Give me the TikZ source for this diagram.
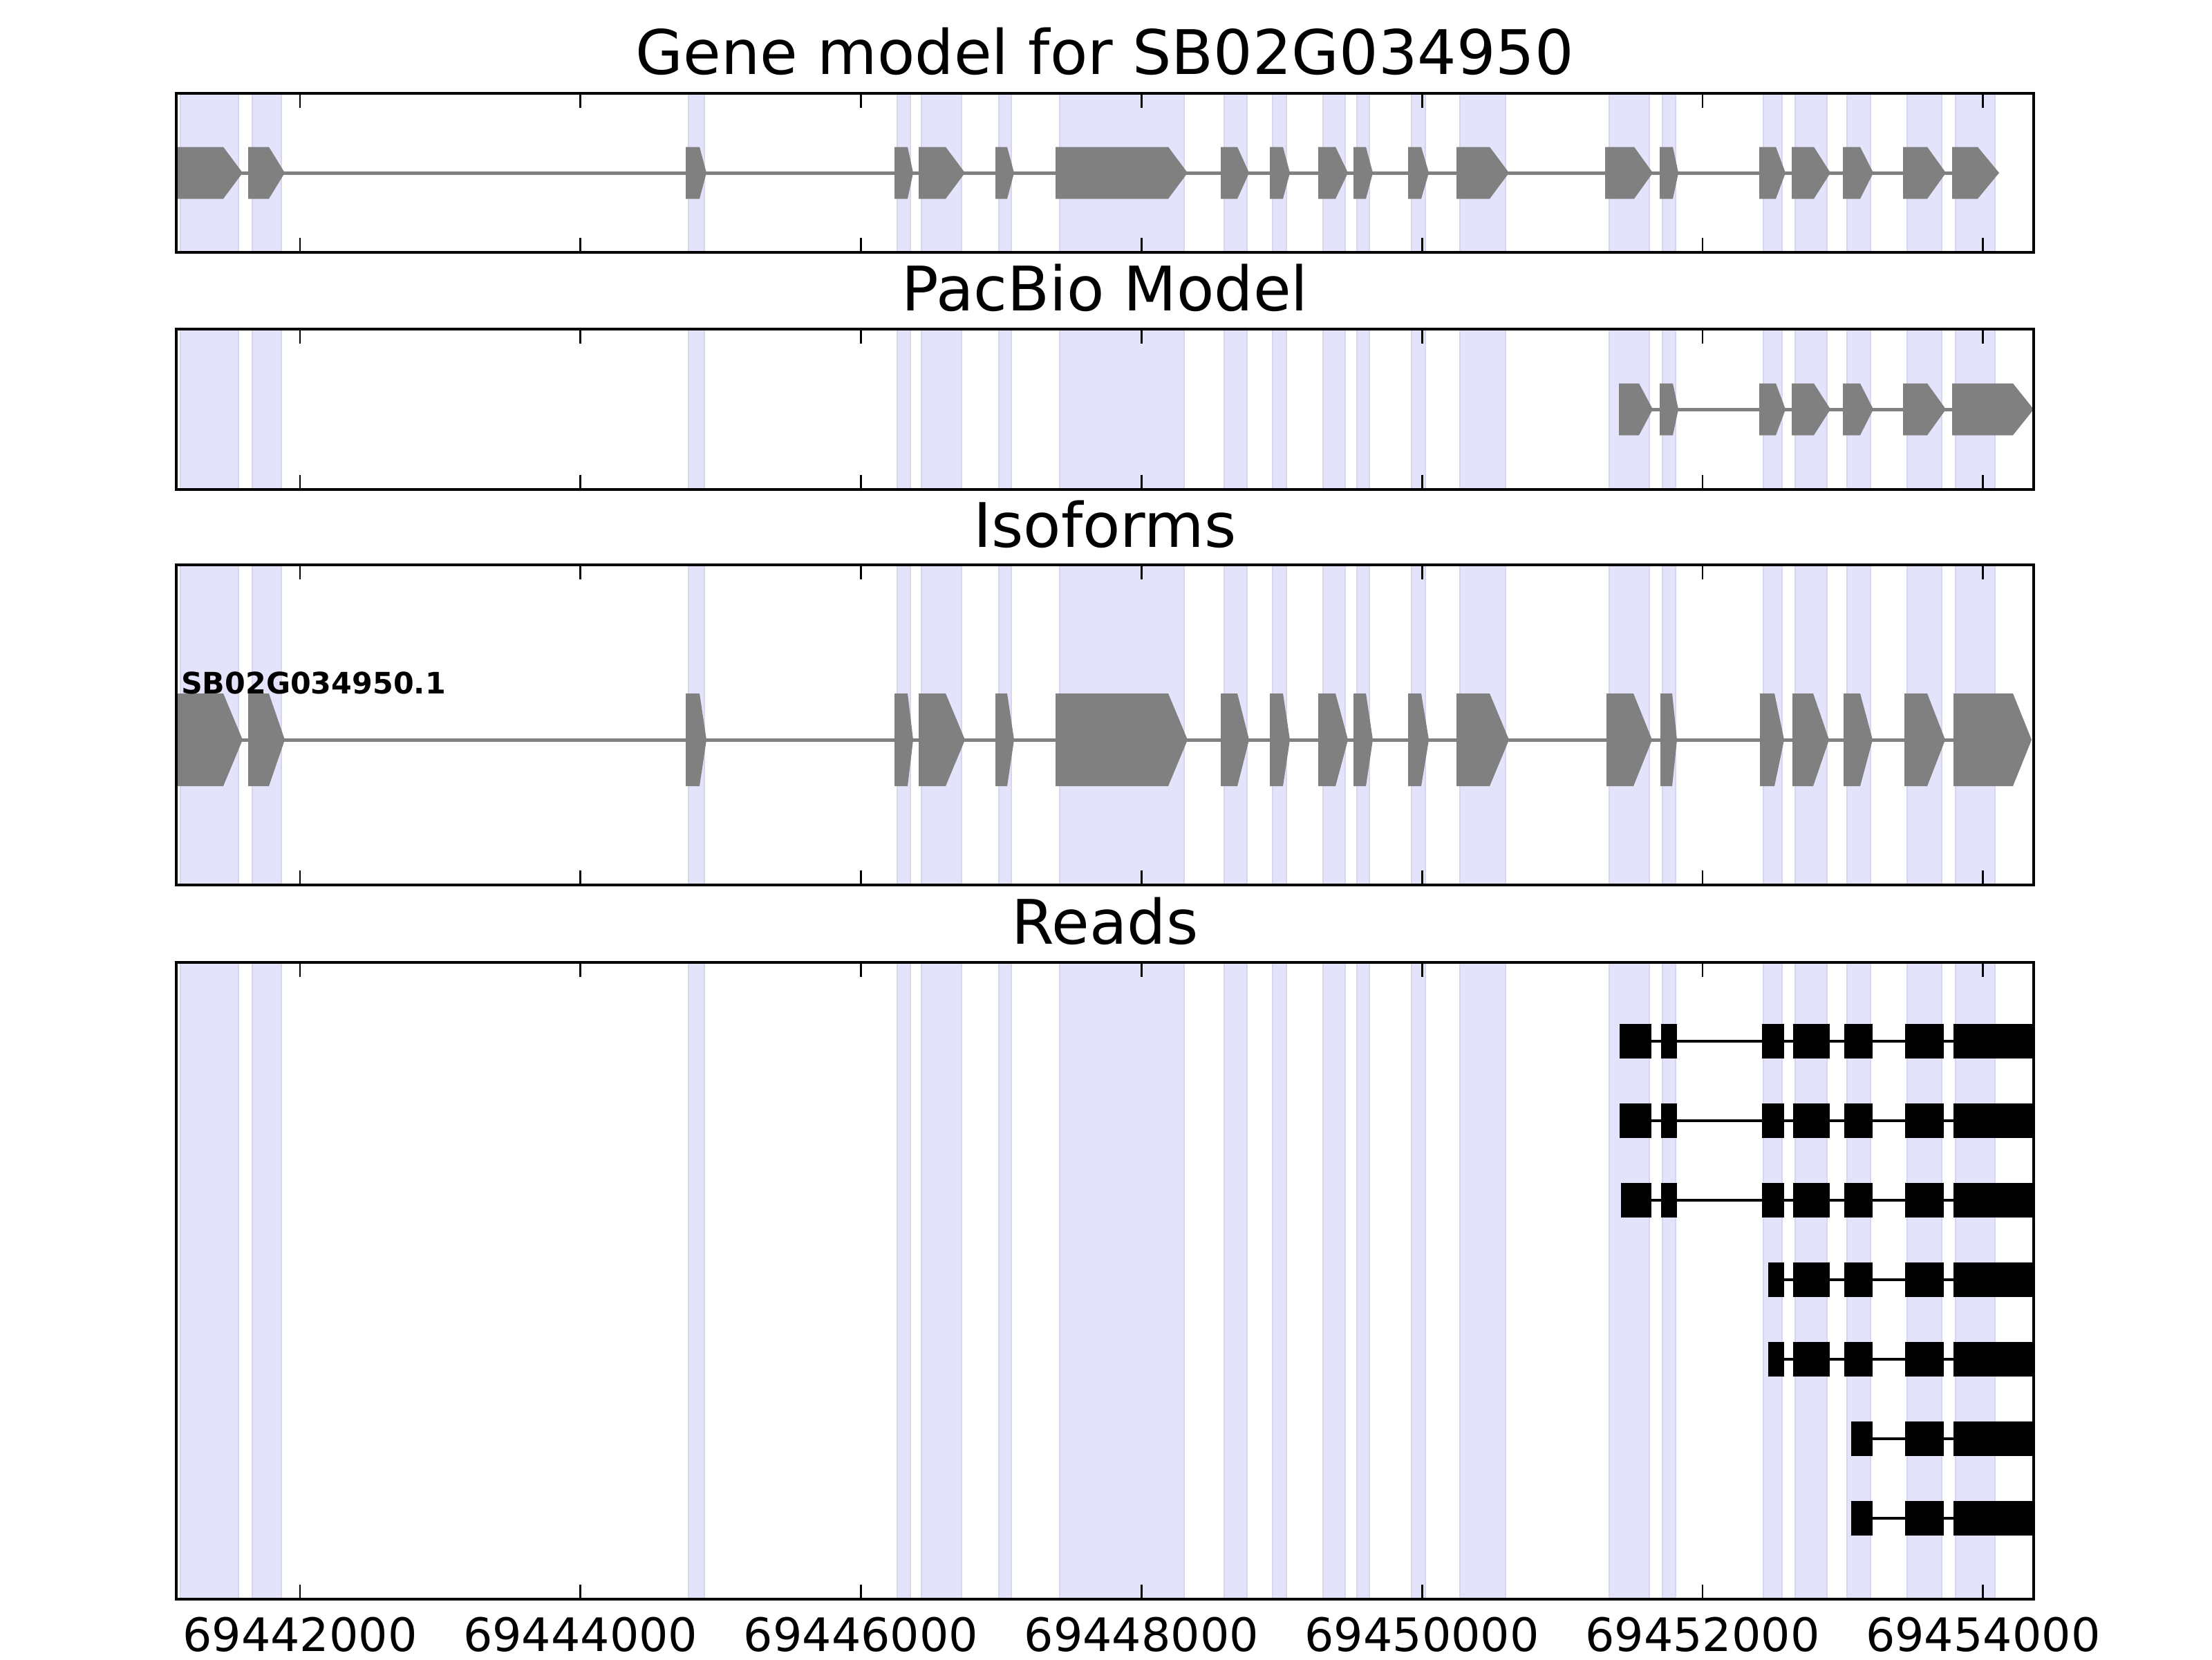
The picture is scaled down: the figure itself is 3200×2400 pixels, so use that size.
\documentclass[tikz,border=0pt]{standalone}
\usepackage{fontspec}
\setmainfont{DejaVu Sans}
\definecolor{bandfill}{RGB}{227,227,252}
\definecolor{bandedge}{RGB}{214,214,236}
\definecolor{exongray}{RGB}{128,128,128}
\tikzset{
  band/.style={fill=bandfill, draw=bandedge, line width=0.4pt},
  frame/.style={draw=black, line width=0.72pt},
  tickmark/.style={draw=black, line width=0.5pt},
  intron/.style={draw=exongray, line width=0.9pt},
  exonfill/.style={fill=exongray},
  readblock/.style={fill=black},
  readline/.style={draw=black, line width=0.8pt},
  paneltitle/.style={font=\fontsize{16}{19}\selectfont, anchor=base, inner sep=0pt},
  ticklabel/.style={font=\fontsize{12}{14}\selectfont, anchor=base, inner sep=0pt},
  isolabel/.style={font=\bfseries\fontsize{7.7}{9}\selectfont, anchor=base west, inner sep=0pt}
}
\newcommand\exonarrow[5]{\fill[exonfill] (#1,{#4-#5}) -- (#2,{#4-#5}) -- (#3,#4) -- (#2,{#4+#5}) -- (#1,{#4+#5}) -- cycle;}
\newcommand\readrow[4]{%
  \draw[readline] (#2,#1) -- (#3,#1);
  \foreach \a/\b in {#4} {\fill[readblock] (\a,{#1-25}) rectangle (\b,{#1+25});}
}
\def\bandlist{261/345,365/407,996/1019,1298/1317,1333/1391,1445/1463,1533/1713,1771/1804,1841/1861,1914/1946,1963/1981,2042/2062,2112/2178,2328/2386,2405/2424,2551/2578,2597/2643,2672/2706,2759/2809,2829/2886}
\def\genelist{240/323/351,359/389/412,992/1012/1022,1294/1313/1321,1329/1368/1396,1440/1457/1467,1527/1690/1718,1766/1790/1807,1837/1856/1866,1907/1932/1950,1958/1976/1986,2037/2056/2067,2107/2155/2183,2322/2364/2391,2401/2420/2428,2545/2569/2583,2592/2624/2648,2666/2691/2710,2753/2788/2815,2824/2861/2892}
\def\pacbiolist{2342/2371/2391,2401/2420/2428,2545/2569/2583,2592/2624/2648,2666/2691/2710,2753/2788/2815,2824/2912/2942}
\def\isolist{240/323/351,359/389/412,992/1012/1022,1294/1313/1321,1329/1368/1396,1440/1457/1467,1527/1690/1718,1766/1790/1807,1837/1856/1866,1907/1932/1950,1958/1976/1986,2037/2056/2067,2107/2155/2183,2324/2363/2390,2402/2419/2426,2546/2567/2581,2593/2623/2646,2667/2691/2709,2755/2788/2814,2826/2912/2939}
\begin{document}
\begin{tikzpicture}[x=0.18pt,y=-0.18pt]
\useasboundingbox (0,0) rectangle (3200,2400);
\fill[white] (0,0) rectangle (3200,2400);

% bands and ticks in each panel
\foreach \ptop/\pbot in {135/365,476/708,817/1280,1392/2313} {
  \foreach \a/\b in \bandlist {\filldraw[band] (\a,\ptop) rectangle (\b,\pbot);}
  \foreach \k in {0,...,6} {
    \draw[tickmark] ({434+405.8*\k},\ptop) -- ++(0,21);
    \draw[tickmark] ({434+405.8*\k},\pbot) -- ++(0,-21);
  }
}

% Panel 1: gene model
\begin{scope}
  \clip (255,135) rectangle (2942,365);
  \draw[intron] (255,250) -- (2824,250);
  \foreach \s/\r/\t in \genelist {\exonarrow{\s}{\r}{\t}{250}{37.5}}
\end{scope}

% Panel 2: PacBio model
\begin{scope}
  \clip (255,476) rectangle (2942,708);
  \draw[intron] (2342,592) -- (2824,592);
  \foreach \s/\r/\t in \pacbiolist {\exonarrow{\s}{\r}{\t}{592}{37.5}}
\end{scope}

% Panel 3: isoforms
\begin{scope}
  \clip (255,817) rectangle (2942,1280);
  \draw[intron] (255,1070) -- (2826,1070);
  \foreach \s/\r/\t in \isolist {\exonarrow{\s}{\r}{\t}{1070}{67}}
\end{scope}
\node[isolabel] (iso) at (261,1003) {SB02G034950.1};

% Panel 4: reads
\readrow{1506}{2343}{2940}{2343/2389,2403/2426,2549/2581,2594/2647,2668/2709,2756/2812,2826/2940}
\readrow{1621}{2343}{2940}{2343/2389,2403/2426,2549/2581,2594/2647,2668/2709,2756/2812,2826/2940}
\readrow{1736}{2345}{2941}{2345/2389,2403/2426,2549/2581,2594/2647,2668/2709,2756/2812,2826/2941}
\readrow{1851}{2558}{2942}{2558/2581,2594/2647,2668/2709,2756/2812,2826/2942}
\readrow{1966}{2558}{2942}{2558/2581,2594/2647,2668/2709,2756/2812,2826/2942}
\readrow{2081}{2678}{2941}{2678/2709,2756/2812,2826/2941}
\readrow{2196}{2678}{2941}{2678/2709,2756/2812,2826/2941}

% frames
\foreach \ptop/\pbot in {135/365,476/708,817/1280,1392/2313} {
  \draw[frame] (255,\ptop) rectangle (2942,\pbot);
}

% titles
\node[paneltitle] (t1) at (1598.5,107) {Gene model for SB02G034950};
\node[paneltitle] (t2) at (1598.5,449) {PacBio Model};
\node[paneltitle] (t3) at (1598.5,791) {Isoforms};
\node[paneltitle] (t4) at (1598.5,1365) {Reads};

% tick labels
\node[ticklabel] (x1) at (434,2388) {69442000};
\node[ticklabel] (x2) at (839.8,2388) {69444000};
\node[ticklabel] (x3) at (1245.6,2388) {69446000};
\node[ticklabel] (x4) at (1651.4,2388) {69448000};
\node[ticklabel] (x5) at (2057.2,2388) {69450000};
\node[ticklabel] (x6) at (2463,2388) {69452000};
\node[ticklabel] (x7) at (2868.8,2388) {69454000};
\end{tikzpicture}
\end{document}
